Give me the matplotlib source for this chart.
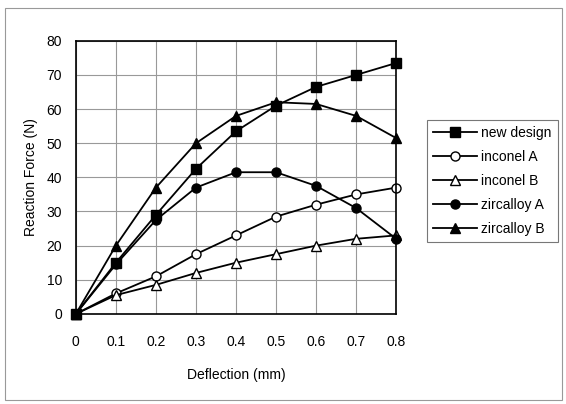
import numpy as np
import matplotlib.pyplot as plt
from matplotlib.patches import Rectangle

plt.rcParams['font.family'] = ['Liberation Sans', 'DejaVu Sans']

deflection = [0, 0.1, 0.2, 0.3, 0.4, 0.5, 0.6, 0.7, 0.8]
new_design = [0, 15, 29, 42.5, 53.5, 61, 66.5, 70, 73.5]
inconel_a = [0, 6, 11, 17.5, 23, 28.5, 32, 35, 37]
inconel_b = [0, 5.5, 8.5, 12, 15, 17.5, 20, 22, 23]
zircalloy_a = [0, 14.5, 27.5, 37, 41.5, 41.5, 37.5, 31, 22]
zircalloy_b = [0, 20, 37, 50, 58, 62, 61.5, 58, 51.5]

fig = plt.figure(figsize=(5.66, 4.04), dpi=100)
ax = fig.add_axes([0.134, 0.223, 0.566, 0.676])

# outer frame of the whole chart
fig.patches.append(Rectangle((0.008, 0.01), 0.985, 0.97, transform=fig.transFigure,
                             fill=False, edgecolor='#999999', lw=0.8))

ms = 6.5
ax.plot(deflection, new_design, '-s', color='black', mfc='black', ms=ms, lw=1.3, label='new design')
ax.plot(deflection, inconel_a, '-o', color='black', mfc='white', ms=ms, lw=1.3, label='inconel A')
ax.plot(deflection, inconel_b, '-^', color='black', mfc='white', ms=ms, lw=1.3, label='inconel B')
ax.plot(deflection, zircalloy_a, '-o', color='black', mfc='black', ms=ms, lw=1.3, label='zircalloy A')
ax.plot(deflection, zircalloy_b, '-^', color='black', mfc='black', ms=ms, lw=1.3, label='zircalloy B')

ax.set_xlim(0, 0.8)
ax.set_ylim(0, 80)
ax.set_xticks(deflection)
ax.set_xticklabels(['0', '0.1', '0.2', '0.3', '0.4', '0.5', '0.6', '0.7', '0.8'])
ax.set_yticks(np.arange(0, 81, 10))
ax.grid(True, color='#999999', lw=0.8)
ax.tick_params(length=0, labelsize=10, pad=15)
ax.tick_params(axis='y', pad=10)
for s in ax.spines.values():
    s.set_linewidth(1.2)
ax.set_xlabel('Deflection (mm)', fontsize=10, labelpad=14)
ax.set_ylabel('Reaction Force (N)', fontsize=10, labelpad=6)

for ln in ax.lines:
    ln.set_clip_on(False)

leg = fig.legend(loc='upper left', bbox_to_anchor=(0.754, 0.703), borderaxespad=0,
                 fontsize=10, frameon=True, fancybox=False, edgecolor='#555555',
                 handlelength=3.2, handletextpad=0.25, labelspacing=0.72, borderpad=0.45)
leg.get_frame().set_linewidth(0.8)

fig.savefig('out.png', dpi=100)
